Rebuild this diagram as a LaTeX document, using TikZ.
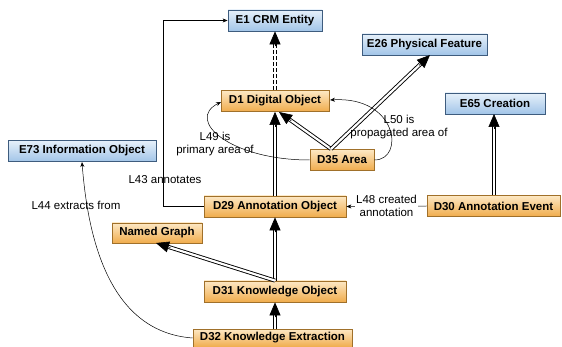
\documentclass[tikz,border=0pt]{standalone}
\usepackage{fontspec}
\setmainfont{Liberation Sans}
\usetikzlibrary{arrows.meta,calc}
\definecolor{bluetop}{HTML}{E6F0FA}
\definecolor{bluebot}{HTML}{A2C5E8}
\definecolor{blueline}{HTML}{3E5C7E}
\definecolor{oratop}{HTML}{FDE8C4}
\definecolor{orabot}{HTML}{F0AC4C}
\definecolor{oraline}{HTML}{A0702A}
\tikzset{
  box/.style={draw, line width=0.8pt, inner sep=0pt, minimum height=21pt,
    font=\bfseries\fontsize{11.5}{13}\selectfont},
  bluebox/.style={box, draw=blueline, top color=bluetop, bottom color=bluebot},
  orabox/.style={box, draw=oraline, top color=oratop, bottom color=orabot},
  dbl/.style={draw=black, double=white, double distance=2.2pt, line width=0.9pt, shorten >=10pt},
  bigtip/.style={draw=black, fill=black, line width=0.6pt, -{Triangle[length=13pt,width=11pt]}},
  thin/.style={draw=black, line width=0.5pt, -{Stealth[length=5pt,width=4pt]}},
  lbl/.style={font=\fontsize{11.5}{13}\selectfont, align=center, inner sep=1pt}
}
\newcommand{\isarrow}[3][]{%
  \draw[dbl,#1] (#2) -- (#3);
  \draw[bigtip] ($(#3)!15pt!(#2)$) -- (#3);}
\begin{document}
\begin{tikzpicture}[x=1pt,y=-1pt]
\useasboundingbox[fill=white] (0,0) rectangle (562,347);
% nodes
\node[bluebox, minimum width=94pt]  (e1)  at (275,20.5) {E1 CRM Entity};
\node[bluebox, minimum width=125pt] (e26) at (424.5,44.5) {E26 Physical Feature};
\node[orabox,  minimum width=108pt] (d1)  at (275,101) {D1 Digital Object};
\node[bluebox, minimum width=100pt] (e65) at (495,103.5) {E65 Creation};
\node[bluebox, minimum width=148pt] (e73) at (82,151) {E73 Information Object};
\node[orabox,  minimum width=64pt]  (d35) at (342,160) {D35 Area};
\node[orabox,  minimum width=142pt] (d29) at (275,206.5) {D29 Annotation Object};
\node[orabox,  minimum width=133pt] (d30) at (493.5,206) {D30 Annotation Event};
\node[orabox,  minimum width=90pt, minimum height=20pt] (ng) at (157,233) {Named Graph};
\node[orabox,  minimum width=142pt] (d31) at (275,291.5) {D31 Knowledge Object};
\node[orabox,  minimum width=159pt, minimum height=18pt] (d32) at (272.5,338) {D32 Knowledge Extraction};
% coordinates
\coordinate (a35) at (331,149);
\coordinate (t1) at (279,112);
\coordinate (t26) at (430,55);
\coordinate (tng) at (156,243);
\coordinate (d30n) at (494,195);
\coordinate (e65s) at (494,114);
\coordinate (d32n) at (275,329);
\coordinate (l43a) at (163,206.5);
\coordinate (l43b) at (163,20.5);
% double (is-a) arrows
\isarrow[dashed, dash pattern=on 4pt off 2pt]{d1.north}{e1.south}
\isarrow{d29.north}{d1.south}
\isarrow{a35}{t1}
\isarrow{a35}{t26}
\isarrow{d30n}{e65s}
\isarrow{d31.north}{d29.south}
\isarrow{d31.north}{tng}
\isarrow{d32n}{d31.south}
% property links
\draw[thin] (d30.west) -- node[lbl, fill=white, pos=0.5] {L48 created\\annotation} (d29.east);
\draw[thin] (d29.west) -- (l43a) -- (l43b) -- (e1.west);
\node[lbl] (l43) at (165,180) {L43 annotates};
\draw[thin] (d32.west) .. controls (110,332) and (88,240) .. (82,162);
\node[lbl] (l44) at (76,205) {L44 extracts from};
\draw[thin] (d35.west) .. controls (230,160) and (185,120) .. (221,102);
\node[lbl] (l49) at (215,144) {L49 is\\primary area of};
\draw[thin] (d35.east) .. controls (405,160) and (398,96) .. (330,100);
\node[lbl] (l50) at (399,127) {L50 is\\propagated area of};
\end{tikzpicture}
\end{document}
